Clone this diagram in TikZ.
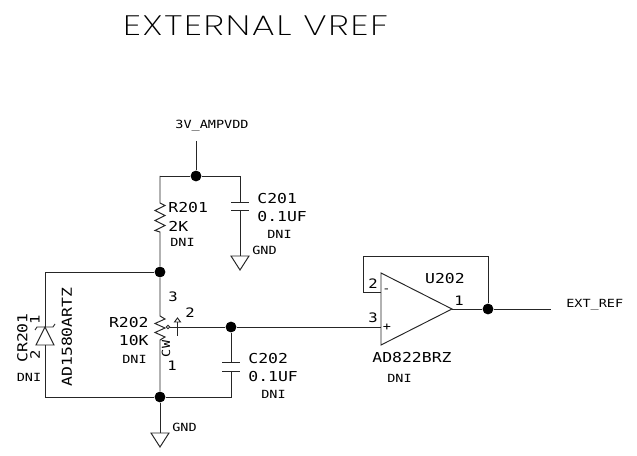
\documentclass[tikz,border=0pt]{standalone}
\usepackage{fontspec}
\setmainfont[FakeStretch=1.2]{DejaVu Sans Mono}
\newfontfamily\titlefont[UprightFont={* ExtraLight},FakeStretch=1.3,LetterSpace=6]{Poppins}
\usetikzlibrary{calc}
\tikzset{
  wire/.style={line width=.55pt,black!85},
  junction/.style={circle,fill=black,inner sep=0pt,minimum size=6.2pt},
  tiny label/.style={inner sep=0pt,font=\fontsize{6.4}{7}\selectfont},
  part label/.style={inner sep=0pt,font=\fontsize{7.8}{9}\selectfont},
  pin label/.style={inner sep=0pt,font=\fontsize{7.4}{9}\selectfont}
}
\newcommand{\GndSym}[2]{% coordinate name, position of top
  \coordinate (#1) at (#2);
  \draw[wire] ($(#1)+(-9,0)$) -- ($(#1)+(9,0)$) -- ($(#1)+(0,14)$) -- cycle;
}
\begin{document}
\begin{tikzpicture}[x=.02cm,y=-.02cm]
  \useasboundingbox (0,0) rectangle (637,456);
  \node[inner sep=0pt,font=\titlefont\fontsize{16}{20}\selectfont] (title) at (255.5,26) {EXTERNAL VREF};
  % supply
  \node[tiny label] (vdd) at (212,126) {3V\_AMPVDD};
  \coordinate (vddend) at (196,141);
  \node[junction] (top) at (196,176) {};
  \coordinate (topl) at (160,176);
  \coordinate (topr) at (240,176);
  \draw[wire] (vddend) -- (top);
  \draw[wire] (top) -- (topl);
  \draw[wire] (top) -- (topr);
  % R201
  \node[junction] (mid) at (160,272) {};
  \coordinate (r1a) at (160,203);
  \coordinate (r1b) at (160,232);
  \draw[wire] (topl) -- (r1a) -- ++(5,2.5) -- ++(-10,5) -- ++(10,5) -- ++(-10,5) -- ++(10,5) -- ++(-10,5) -- (r1b) -- (mid);
  \node[part label,anchor=west] (r201) at (168,208) {R201};
  \node[part label,anchor=west] (r201v) at (168,226) {2K};
  \node[tiny label,anchor=west] (r201d) at (170,242) {DNI};
  % C201
  \coordinate (c1a) at (240,202);
  \coordinate (c1b) at (240,210);
  \draw[wire] (topr) -- (c1a);
  \draw[wire] ($(c1a)+(-9,0)$) -- ($(c1a)+(9,0)$);
  \draw[wire] ($(c1b)+(-9,0)$) -- ($(c1b)+(9,0)$);
  \GndSym{gnda}{240,256}
  \draw[wire] (c1b) -- (gnda);
  \node[part label,anchor=west] (c201) at (257,199) {C201};
  \node[part label,anchor=west] (c201v) at (257,217) {0.1UF};
  \node[tiny label,anchor=west] (c201d) at (267,234) {DNI};
  \node[tiny label,anchor=west] (gndal) at (252,250) {GND};
  % R202
  \node[junction] (bot) at (160,397) {};
  \coordinate (r2a) at (160,316);
  \coordinate (r2b) at (160,343);
  \draw[wire] (mid) -- (r2a) -- ++(5,3) -- ++(-10,4.5) -- ++(10,4.5) -- ++(-10,4.5) -- ++(10,4.5) -- ++(-5,3) -- (r2b) -- (bot);
  \node[pin label] (p3) at (173,297) {3};
  \node[pin label] (p2) at (190,313) {2};
  \node[pin label] (p1) at (172,366) {1};
  \node[part label,anchor=east] (r202) at (149,323) {R202};
  \node[part label,anchor=east] (r202v) at (149,341) {10K};
  \node[tiny label,anchor=east] (r202d) at (147,359) {DNI};
  \node[tiny label,rotate=90] (cw) at (166,349) {CW};
  % wiper
  \node[draw,wire,circle,inner sep=0pt,minimum size=2pt] (wip) at (168,327) {};
  \node[junction] (wj) at (231,327) {};
  \draw[wire] (wip) -- (wj);
  \coordinate (arra) at (177.5,336);
  \coordinate (arrb) at (177.5,322);
  \draw[wire] (arra) -- (arrb);
  \draw[wire] ($(arrb)+(-3,0)$) -- ($(arrb)+(3,0)$) -- (177.5,318) -- cycle;
  % C202
  \coordinate (c2a) at (231,362.5);
  \coordinate (c2b) at (231,371);
  \coordinate (botr) at (231,397);
  \draw[wire] (wj) -- (c2a);
  \draw[wire] ($(c2a)+(-9,0)$) -- ($(c2a)+(9,0)$);
  \draw[wire] ($(c2b)+(-9,0)$) -- ($(c2b)+(9,0)$);
  \draw[wire] (c2b) -- (botr) -- (bot);
  \node[part label,anchor=west] (c202) at (248,359) {C202};
  \node[part label,anchor=west] (c202v) at (248,377) {0.1UF};
  \node[tiny label,anchor=west] (c202d) at (261,394) {DNI};
  % ground
  \GndSym{gndb}{160,433}
  \draw[wire] (bot) -- (gndb);
  \node[tiny label,anchor=west] (gndbl) at (172,427) {GND};
  % diode
  \coordinate (dla) at (45,272);
  \coordinate (dlb) at (45,397);
  \coordinate (da) at (45,327);
  \coordinate (dc) at (45,345);
  \draw[wire] (mid) -- (dla) -- (da);
  \draw[wire] (dc) -- (dlb) -- (bot);
  \draw[wire] ($(dc)+(-9,0)$) -- ($(dc)+(9,0)$) -- (da) -- cycle;
  \draw[wire] ($(da)+(-10,3)$) -- ($(da)+(-8,0)$) -- ($(da)+(8,0)$) -- ($(da)+(10,-3)$);
  \node[part label,rotate=90] (cr201) at (22.5,338) {CR201};
  \node[pin label,rotate=90] (d1) at (35,320) {1};
  \node[pin label,rotate=90] (d2) at (35,355) {2};
  \node[part label,rotate=90] (ad1580) at (67,337) {AD1580ARTZ};
  \node[tiny label] (cr201d) at (29,377) {DNI};
  % op amp
  \coordinate (ua) at (381,273);
  \coordinate (ub) at (381,345);
  \node[inner sep=0pt,minimum size=0pt] (uo) at (452,309) {};
  \draw[wire] (ua) -- (ub) -- (uo.center) -- cycle;
  \coordinate (um) at (381,292);
  \coordinate (up) at (381,327);
  \coordinate (fa) at (363,292);
  \coordinate (fb) at (363,256);
  \coordinate (fc) at (488,256);
  \node[junction] (oj) at (488,309) {};
  \coordinate (extend) at (551,309);
  \draw[wire] (um) -- (fa) -- (fb) -- (fc) -- (oj);
  \draw[wire] (wj) -- (up);
  \draw[wire] (uo.center) -- (oj);
  \draw[wire] (oj) -- (extend);
  \node[tiny label] (minus) at (386.5,291) {-};
  \node[tiny label] (plus) at (387,327) {+};
  \node[pin label] (u2) at (373,284) {2};
  \node[pin label] (u3) at (373,318) {3};
  \node[pin label] (u1) at (459,301) {1};
  \node[part label] (u202) at (445,279) {U202};
  \node[part label] (ad822) at (412,358) {AD822BRZ};
  \node[tiny label] (ad822d) at (399.5,378) {DNI};
  \node[tiny label,anchor=west] (ext) at (566,305) {EXT\_REF};
\end{tikzpicture}
\end{document}
